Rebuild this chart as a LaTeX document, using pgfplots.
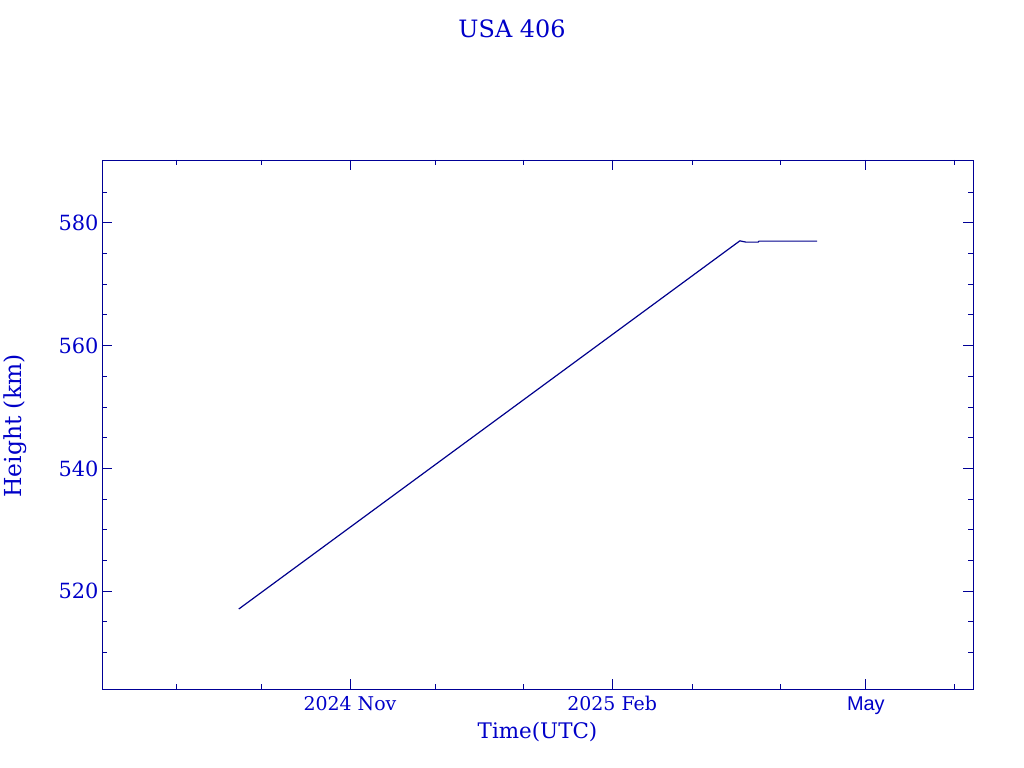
\documentclass[border=0pt]{standalone}
\usepackage{pgfplots}
\pgfplotsset{compat=1.18}
\usepackage{fontspec}
\setmainfont{DejaVu Serif}
\newfontfamily\maysans{Liberation Sans}
\definecolor{txtblue}{RGB}{0,0,200}
\definecolor{lineblue}{RGB}{0,0,140}
\definecolor{axblue}{RGB}{0,0,150}
\begin{document}
\begin{tikzpicture}[x=1bp,y=1bp]
\path[use as bounding box] (0,0) rectangle (1024,768);
\begin{axis}[
  at={(102bp,79bp)}, anchor=south west,
  scale only axis, width=871bp, height=529bp,
  xmin=-87, xmax=218.6, ymin=504.07, ymax=590.24,
  axis line style={axblue, line width=0.9pt},
  every tick/.style={axblue, line width=0.9pt},
  tick align=inside,
  major tick length=10bp, minor tick length=5bp,
  xtick={0,92,181},
  xticklabels={2024 Nov, 2025 Feb, {\fontsize{20}{22}\selectfont\maysans May}},
  minor xtick={-61,-31,30,61,120,151,212},
  ytick={520,540,560,580},
  minor ytick={510,515,525,530,535,545,550,555,565,570,575,585},
  ticklabel style={text=txtblue},
  xticklabel style={font=\fontsize{19}{21}\selectfont, anchor=base, yshift=-22bp},
  yticklabel style={font=\fontsize{21}{23}\selectfont},
  /pgf/number format/assume math mode=true,
  xlabel={Time(UTC)}, ylabel={Height (km)},
  xlabel style={font=\fontsize{21.5}{24}\selectfont, text=txtblue, at={(axis description cs:0.5,0)}, anchor=center, yshift=-43bp},
  ylabel style={font=\fontsize{23.5}{26}\selectfont, text=txtblue, at={(axis description cs:-0.0999,0.497)}, anchor=center},
  title={USA 406},
  title style={font=\fontsize{24}{27}\selectfont, text=txtblue, at={(axis description cs:0.4707,1)}, anchor=center, yshift=125bp},
  clip=false,
]
\addplot[lineblue, line width=1.2pt, line join=round] coordinates {
  (-39,517.1) (136.8,577.07) (138.9,576.86) (143.2,576.86) (143.5,577.02) (163.9,577.02)
};
\end{axis}
\end{tikzpicture}
\end{document}
